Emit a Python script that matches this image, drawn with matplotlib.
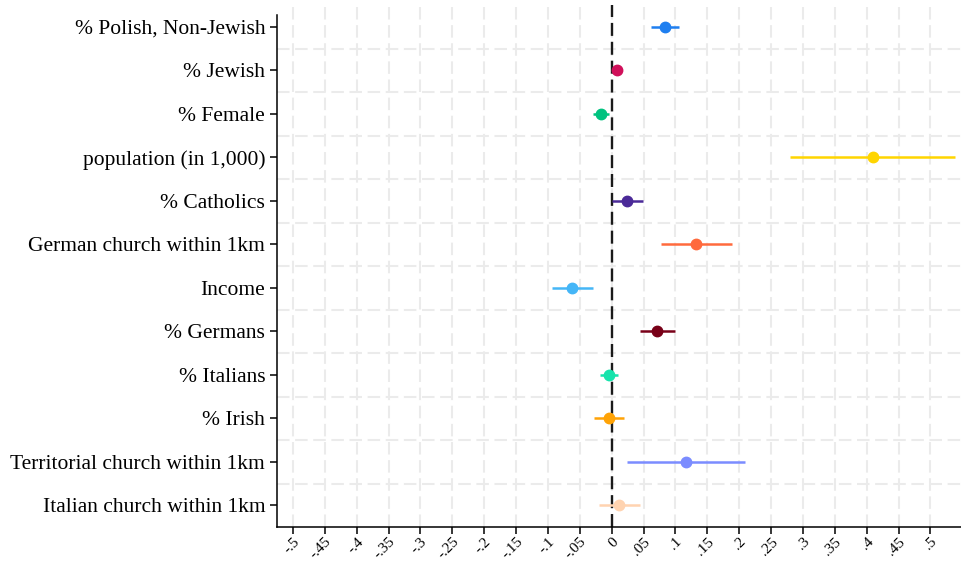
import numpy as np
import matplotlib.pyplot as plt

# coefficient plot: point estimates with 95% CIs, one row per covariate
labels = ['% Polish, Non-Jewish', '% Jewish', '% Female', 'population (in 1,000)',
          '% Catholics', 'German church within 1km', 'Income', '% Germans',
          '% Italians', '% Irish', 'Territorial church within 1km',
          'Italian church within 1km']
coef = [0.0836, 0.0077, -0.0174, 0.410, 0.0245, 0.132, -0.0623, 0.0715,
        -0.0043, -0.0048, 0.116, 0.0114]
ci_lo = [0.0616, 0.0025, -0.0300, 0.280, 0.0005, 0.0767, -0.0942, 0.0443,
         -0.0179, -0.0278, 0.0240, -0.0194]
ci_hi = [0.1055, 0.0130, -0.0040, 0.539, 0.0485, 0.1886, -0.0294, 0.0993,
         0.0098, 0.0187, 0.2090, 0.0438]
colors = ['#1f7ff0', '#d0105a', '#00c27f', '#ffd500', '#4b2a98', '#ff6a3d',
          '#45b6f7', '#780018', '#17e3ac', '#ffa306', '#7b8cff', '#ffd3b0']

xticks = np.round(np.arange(-0.5, 0.501, 0.05), 2)


def stata_fmt(v):
    if abs(v) < 1e-9:
        return '0'
    s = f'{v:g}'
    return s.replace('0.', '.')


plt.rcParams['font.family'] = ['Liberation Serif', 'DejaVu Serif']

fig = plt.figure(figsize=(9.61, 5.62), dpi=100)
ax = fig.add_axes([277 / 961, 1 - 527 / 562, 1 - 277 / 961, 522 / 562])

rows = np.arange(1, len(labels) + 1)

# background grid: vertical at ticks, horizontal between rows
for xt in xticks:
    ax.axvline(xt, color='#ebebeb', lw=1.5, ls=(0, (6, 2.7)), zorder=0)
for yb in rows[:-1] + 0.5:
    ax.axhline(yb, color='#ebebeb', lw=1.5, ls=(0, (6, 2.7)), zorder=0)

ax.axvline(0, color='#1a1a1a', lw=1.7, ls=(0, (5.5, 2.5)), zorder=1)

for r, c, lo, hi, col in zip(rows, coef, ci_lo, ci_hi, colors):
    ax.plot([lo, hi], [r, r], color=col, lw=1.8, solid_capstyle='butt', zorder=2)
    ax.plot(c, r, 'o', color=col, ms=7.5, mec=col, zorder=3)

ax.set_xlim(-0.525, 0.548)
ax.set_ylim(12.5, 0.5)
ax.set_yticks(rows)
ax.set_yticklabels(labels, fontsize=15.5)
ax.set_xticks(xticks)
ax.set_xticklabels([stata_fmt(v) for v in xticks], fontsize=11,
                   rotation=45, ha='right', rotation_mode='anchor')
ax.tick_params(axis='both', direction='out', length=5, width=1.1, color='black')
ax.tick_params(axis='x', pad=1)

for side in ['top', 'right']:
    ax.spines[side].set_visible(False)
for side in ['left', 'bottom']:
    ax.spines[side].set_linewidth(1.1)
    ax.spines[side].set_color('black')
ax.spines['left'].set_bounds(12.5, 0.72)

fig.savefig('out.png', dpi=100)
